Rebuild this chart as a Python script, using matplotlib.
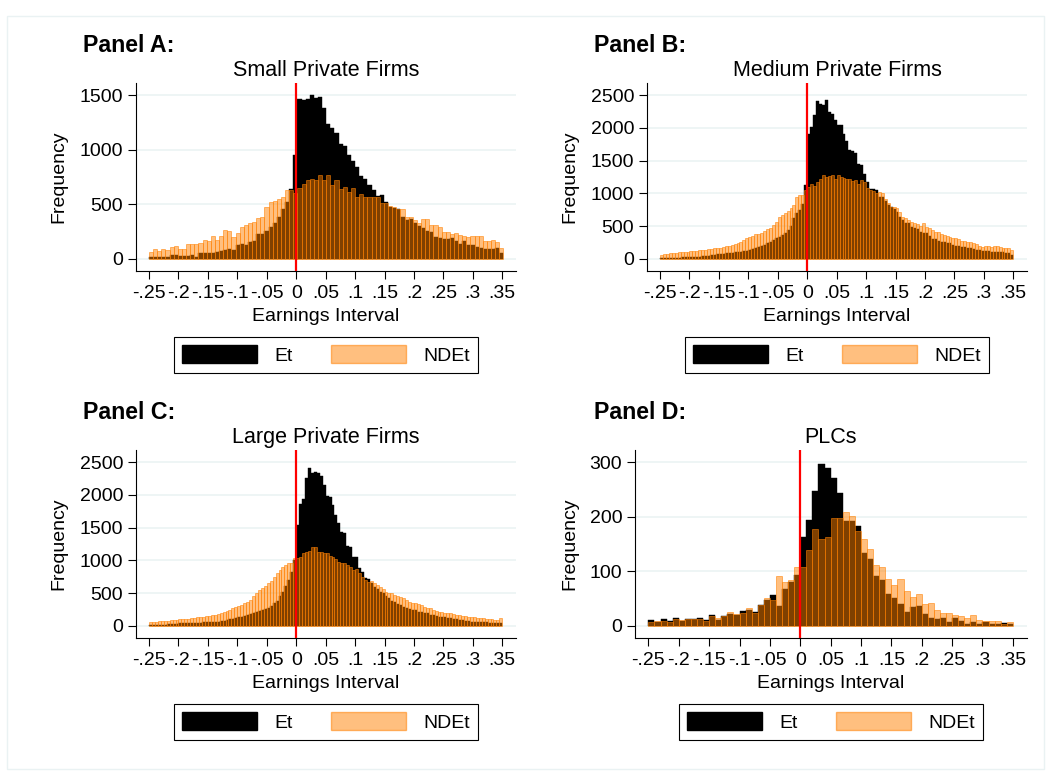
import numpy as np
import matplotlib
matplotlib.use("Agg")
import matplotlib.pyplot as plt
from matplotlib.patches import Patch, Rectangle

plt.rcParams['font.family'] = ['Liberation Sans', 'DejaVu Sans']

# bins (start, width) per panel
small_start, small_width = -0.25, 0.007
medium_start, medium_width = -0.25, 0.005
large_start, large_width = -0.25, 0.005
plc_start, plc_width = -0.25, 0.01

# Panel A: small private firms
small_et = [12, 12, 12, 12, 12, 34, 34, 25, 25, 25,
            34, 12, 52, 52, 52, 52, 61, 74, 83, 89,
            83, 129, 135, 129, 153, 163, 224, 230, 258, 294,
            331, 386, 460, 521, 641, 951, 1469, 1460, 1469, 1506,
            1478, 1484, 1386, 1233, 1199, 1150, 1049, 1030, 954, 899,
            843, 761, 736, 675, 632, 577, 586, 521, 478, 466,
            460, 386, 356, 365, 325, 300, 285, 258, 248, 202,
            193, 178, 178, 193, 159, 135, 159, 129, 129, 110,
            98, 92, 92, 92, 98, 52]
small_ndet = [58, 89, 74, 89, 80, 107, 117, 89, 89, 135,
              135, 135, 144, 169, 160, 212, 169, 212, 261, 251,
              199, 236, 291, 307, 331, 340, 371, 386, 475, 521,
              530, 546, 567, 632, 632, 601, 647, 687, 727, 736,
              727, 767, 724, 767, 672, 727, 641, 656, 616, 653,
              570, 592, 570, 570, 564, 570, 509, 515, 485, 472,
              460, 460, 386, 380, 356, 325, 362, 362, 310, 310,
              288, 248, 248, 230, 239, 215, 209, 202, 205, 212,
              209, 159, 159, 172, 153, 95]

# Panel B: medium private firms
medium_et = [8, 10, 10, 12, 15, 15, 18, 20, 20, 22,
             25, 28, 30, 32, 35, 40, 45, 55, 60, 65,
             70, 75, 80, 82, 85, 95, 100, 110, 115, 125,
             140, 150, 165, 180, 195, 210, 240, 260, 290, 310,
             330, 360, 390, 440, 499, 616, 692, 743, 835, 1120,
             1904, 2016, 2194, 2412, 2372, 2346, 2433, 2245, 2219, 2128,
             2051, 2051, 1914, 1797, 1659, 1644, 1619, 1456, 1440, 1303,
             1176, 1064, 1059, 1048, 937, 937, 880, 819, 794, 760,
             718, 641, 590, 550, 550, 489, 470, 448, 412, 400,
             387, 346, 295, 295, 275, 260, 250, 234, 234, 209,
             193, 193, 173, 173, 158, 158, 143, 132, 132, 117,
             117, 117, 102, 107, 107, 107, 97, 81, 81, 56]
medium_ndet = [55, 70, 72, 80, 85, 90, 100, 98, 105, 110,
               112, 118, 122, 128, 130, 140, 150, 148, 158, 165,
               170, 180, 190, 200, 209, 220, 234, 260, 285, 310,
               336, 350, 377, 375, 387, 420, 448, 470, 514, 560,
               641, 670, 702, 735, 769, 820, 947, 972, 975, 1048,
               1099, 1140, 1110, 1176, 1227, 1278, 1252, 1262, 1288, 1227,
               1288, 1252, 1242, 1227, 1217, 1186, 1201, 1150, 1201, 1176,
               1089, 1048, 1038, 1008, 1018, 998, 921, 845, 794, 784,
               769, 718, 641, 616, 590, 565, 540, 529, 499, 540,
               489, 473, 438, 412, 412, 377, 361, 351, 336, 321,
               310, 295, 275, 265, 260, 249, 234, 224, 199, 183,
               193, 193, 183, 193, 193, 183, 158, 168, 158, 132]

# Panel C: large private firms
large_et = [10, 12, 12, 15, 15, 18, 20, 22, 25, 28,
            36, 38, 40, 42, 44, 46, 46, 48, 50, 52,
            54, 56, 56, 62, 70, 78, 85, 102, 110, 120,
            130, 140, 150, 163, 180, 200, 214, 230, 245, 255,
            265, 300, 340, 383, 450, 520, 600, 700, 820, 1000,
            1540, 1862, 1938, 2254, 2407, 2341, 2356, 2331, 2295, 2152,
            1984, 1974, 1846, 1693, 1566, 1428, 1413, 1219, 1199, 1056,
            1046, 877, 826, 724, 709, 648, 597, 556, 520, 495,
            459, 418, 383, 367, 332, 316, 291, 265, 255, 240,
            240, 214, 204, 189, 189, 163, 163, 153, 138, 128,
            128, 112, 112, 102, 102, 87, 87, 77, 77, 61,
            61, 61, 51, 56, 51, 46, 46, 36, 36, 36]
large_ndet = [55, 60, 62, 65, 70, 72, 78, 82, 88, 92,
              97, 100, 105, 110, 112, 118, 128, 130, 140, 150,
              155, 160, 163, 175, 190, 205, 220, 240, 265, 280,
              300, 320, 340, 367, 400, 450, 495, 540, 580, 610,
              648, 690, 740, 801, 850, 900, 930, 954, 960, 1030,
              1040, 1046, 1117, 1132, 1142, 1199, 1209, 1132, 1132, 1117,
              1107, 1066, 1046, 1015, 979, 954, 964, 928, 903, 852,
              862, 801, 750, 699, 673, 689, 648, 622, 597, 556,
              520, 505, 495, 469, 459, 444, 418, 393, 367, 352,
              342, 332, 316, 291, 275, 265, 240, 230, 214, 214,
              199, 189, 189, 179, 163, 163, 153, 148, 138, 138,
              128, 122, 112, 112, 102, 97, 97, 87, 87, 112]

# Panel D: PLCs
plc_et = [10, 7, 13, 9, 15, 9, 12, 12, 15, 10,
          20, 10, 18, 21, 20, 27, 29, 25, 38, 47,
          56, 36, 67, 81, 93, 162, 194, 247, 296, 289,
          272, 243, 193, 193, 183, 133, 122, 92, 84, 59,
          50, 39, 26, 35, 37, 21, 14, 12, 15, 7,
          14, 9, 4, 7, 4, 6, 3, 3, 5, 3]
plc_ndet = [6, 9, 9, 7, 13, 10, 12, 12, 12, 8,
            18, 15, 18, 25, 21, 24, 32, 23, 38, 50,
            48, 91, 81, 84, 107, 108, 139, 178, 159, 162,
            197, 197, 209, 202, 174, 159, 141, 111, 107, 86,
            75, 85, 64, 53, 58, 39, 42, 29, 23, 24,
            20, 17, 14, 20, 10, 9, 9, 9, 3, 6]

xticks = [-0.25, -0.2, -0.15, -0.1, -0.05, 0, 0.05, 0.1, 0.15, 0.2, 0.25, 0.3, 0.35]
xtick_labels = ['-.25', '-.2', '-.15', '-.1', '-.05', '0', '.05', '.1', '.15', '.2', '.25', '.3', '.35']

W, H = 1051, 776
ORANGE = (1.0, 0.5, 0.0, 0.5)
ORANGE_EDGE = (1.0, 0.5, 0.0, 0.55)

fig = plt.figure(figsize=(W / 100, H / 100), dpi=100)

# faint outer frame
fig.add_artist(Rectangle((7 / W, 1 - 769 / H), (1044 - 7) / W, (769 - 16) / H,
                         transform=fig.transFigure, fill=False,
                         edgecolor='#EAF2F3', lw=1.0))

# label, title, et, ndet, bin start, bin width, top tick, tick step, axes px (left, right), y offset
panels = [
    ('Panel A:', 'Small Private Firms', small_et, small_ndet, small_start, small_width, 1500, 500, 136, 516, 0, 0),
    ('Panel B:', 'Medium Private Firms', medium_et, medium_ndet, medium_start, medium_width, 2500, 500, 647, 1027, 0, 511),
    ('Panel C:', 'Large Private Firms', large_et, large_ndet, large_start, large_width, 2500, 500, 136, 516, 367, 0),
    ('Panel D:', 'PLCs', plc_et, plc_ndet, plc_start, plc_width, 300, 100, 635, 1027, 367, 511),
]

for label, title, et, ndet, start, width, top, step, left, right, dy, dx in panels:
    ax_top, ax_bot = 83 + dy, 271 + dy
    ax = fig.add_axes([left / W, 1 - ax_bot / H, (right - left) / W, (ax_bot - ax_top) / H])

    edges = start + width * np.arange(len(et))
    ax.bar(edges, et, width=width, align='edge', color='black',
           edgecolor='black', linewidth=0.3, zorder=2)
    ax.bar(edges, ndet, width=width, align='edge', color=ORANGE,
           edgecolor=ORANGE_EDGE, linewidth=0.7, zorder=2.5)
    ax.axvline(0, color='red', lw=1.6, zorder=3)

    ax.set_xlim(-0.2721, 0.3733)
    ax.set_ylim(-0.0753 * top, 1.0753 * top)
    ax.set_xticks(xticks)
    ax.set_xticklabels(xtick_labels)
    ax.set_yticks(np.arange(0, top + 1, step))
    ax.yaxis.grid(True, color='#EAF2F3', lw=1.1)
    ax.set_axisbelow(True)
    for s in ['top', 'right']:
        ax.spines[s].set_visible(False)
    for s in ['left', 'bottom']:
        ax.spines[s].set_linewidth(0.8)
    ax.tick_params(axis='both', direction='out', length=5.8, width=0.8, labelsize=14)
    ax.tick_params(axis='x', pad=4.3)
    ax.tick_params(axis='y', pad=3.4)

    cx = (left + right) / 2
    fig.text((82.7 + dx) / W, 1 - (52 + dy) / H, label, fontsize=16.7,
             fontweight='bold', ha='left', va='baseline')
    fig.text(cx / W, 1 - (76 + dy) / H, title, fontsize=15.5, ha='center', va='baseline')
    fig.text(cx / W, 1 - (321 + dy) / H, 'Earnings Interval', fontsize=14,
             ha='center', va='baseline')
    fig.text((59 + dx) / W, 1 - (177 + dy) / H, 'Frequency', fontsize=14,
             rotation=90, ha='center', va='center')

    handles = [Patch(facecolor='black', edgecolor='black'),
               Patch(facecolor=ORANGE, edgecolor=ORANGE_EDGE)]
    leg = ax.legend(handles, ['Et', 'NDEt'], ncol=2, loc='center',
                    bbox_to_anchor=(cx / W, 1 - (355 + dy) / H),
                    bbox_transform=fig.transFigure, fontsize=14,
                    frameon=True, fancybox=False, framealpha=1,
                    handlelength=3.87, handleheight=1.03, handletextpad=0.88,
                    columnspacing=1.96, borderpad=0.4, borderaxespad=0)
    leg.get_frame().set_edgecolor('black')
    leg.get_frame().set_linewidth(0.8)

fig.savefig('out.png', dpi=100)
